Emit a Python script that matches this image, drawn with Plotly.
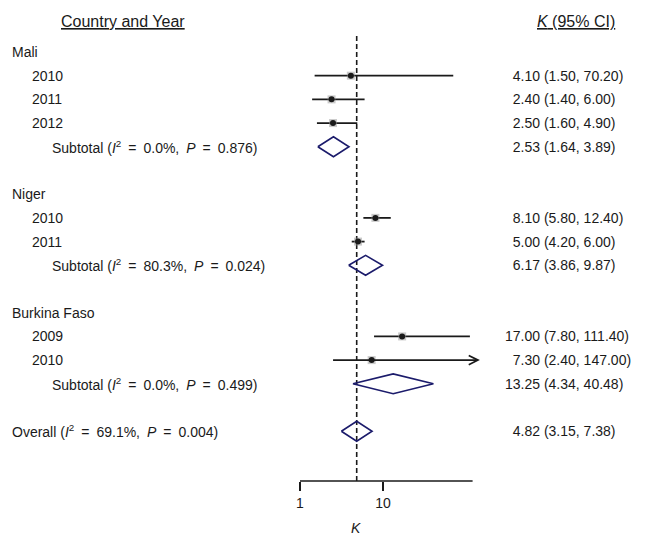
import numpy as np
import plotly.graph_objects as go

# ---------------- data ----------------
countries = ["Mali", "Niger", "Burkina Faso"]
study_country = ["Mali", "Mali", "Mali", "Niger", "Niger", "Burkina Faso", "Burkina Faso"]
study_year = ["2010", "2011", "2012", "2010", "2011", "2009", "2010"]
study_est = [4.10, 2.40, 2.50, 8.10, 5.00, 17.00, 7.30]
study_lo = [1.50, 1.40, 1.60, 5.80, 4.20, 7.80, 2.40]
study_hi = [70.20, 6.00, 4.90, 12.40, 6.00, 111.40, 147.00]

sub_est = [2.53, 6.17, 13.25]
sub_lo = [1.64, 3.86, 4.34]
sub_hi = [3.89, 9.87, 40.48]
sub_i2 = ["0.0", "80.3", "0.0"]
sub_p = ["0.876", "0.024", "0.499"]

overall_est = 4.82
overall_lo = 3.15
overall_hi = 7.38
overall_i2 = "69.1"
overall_p = "0.004"

x_ticks = [1, 10]
x_tick_labels = ["1", "10"]
axis_max = 120

# ---------------- layout of rows ----------------
FONT = "Liberation Sans, Arial, sans-serif"
BLACK = "#1a1a1a"
NAVY = "#1b1b6b"
SP = "\u2002"  # wider space as in the reference typesetting

def het_text(lead, i2, p):
    return "%s (<i>I</i><sup>2</sup>%s=%s%s%%,%s<i>P</i>%s=%s%s)" % (lead, SP, SP, i2, SP, SP, SP, p)

rows_left = []   # (row, text, indent_px)
rows_right = []  # (row, est, lo, hi)
st_rows, sb_rows = [], []
r = 1
for ci, c in enumerate(countries):
    rows_left.append((r, c, 10))
    r += 1
    for i, sc in enumerate(study_country):
        if sc == c:
            rows_left.append((r, study_year[i], 30))
            rows_right.append((r, study_est[i], study_lo[i], study_hi[i]))
            st_rows.append(r)
            r += 1
    rows_left.append((r, het_text("Subtotal", sub_i2[ci], sub_p[ci]), 50))
    rows_right.append((r, sub_est[ci], sub_lo[ci], sub_hi[ci]))
    sb_rows.append(r)
    r += 2
ov_row = r
rows_left.append((ov_row, het_text("Overall", overall_i2, overall_p), 10))
rows_right.append((ov_row, overall_est, overall_lo, overall_hi))

W, H = 646, 538
ML, MR, MT, MB = 300, 155, 33, 57
x_right = 200
pw = W - ML - MR
ph = H - MT - MB

def px(p):
    return (p - ML) / pw

def py(p):
    return (H - MB - p) / ph

fig = go.Figure()

# CI lines (non-truncated)
cx, cy = [], []
arrows = []
for i, rr in enumerate(st_rows):
    if study_hi[i] > axis_max:
        arrows.append((rr, study_lo[i], study_hi[i]))
        continue
    cx += [study_lo[i], study_hi[i], None]
    cy += [rr, rr, None]
fig.add_trace(go.Scatter(x=cx, y=cy, mode="lines", line=dict(color=BLACK, width=1.8),
                         hoverinfo="skip", showlegend=False))

# weight boxes
fig.add_trace(go.Scatter(x=study_est, y=st_rows, mode="markers",
                         marker=dict(symbol="square", size=8, color="rgba(150,150,150,0.5)"),
                         hoverinfo="skip", showlegend=False))
# point estimates
fig.add_trace(go.Scatter(x=study_est, y=st_rows, mode="markers",
                         marker=dict(symbol="circle", size=6, color=BLACK),
                         hoverinfo="skip", showlegend=False))

# diamonds
hh = 0.42
dx, dy = [], []
for e, lo, hi, rr in zip(sub_est + [overall_est], sub_lo + [overall_lo], sub_hi + [overall_hi], sb_rows + [ov_row]):
    dx += [lo, e, hi, e, lo, None]
    dy += [rr, rr - hh, rr, rr + hh, rr, None]
fig.add_trace(go.Scatter(x=dx, y=dy, mode="lines", line=dict(color=NAVY, width=1.6),
                         hoverinfo="skip", showlegend=False))

annotations = []
# arrows for truncated CIs (annotation coords on log axis are log10 values)
for rr, lo, hi in arrows:
    annotations.append(dict(x=np.log10(hi), y=rr, ax=np.log10(lo), ay=rr, xref="x", yref="y",
                            axref="x", ayref="y", text="", showarrow=True, arrowhead=5,
                            arrowwidth=1.8, arrowsize=1.0, arrowcolor=BLACK, standoff=0))

# left texts
for rr, t, ind in rows_left:
    annotations.append(dict(x=px(ind), y=rr, xref="paper", yref="y", text=t, showarrow=False,
                            xanchor="left", yanchor="middle", font=dict(family=FONT, size=14, color=BLACK)))

# right texts, decimal aligned
for rr, e, lo, hi in rows_right:
    pad = "\u2007" if e < 10 else ""
    t = "%s%.2f (%.2f, %.2f)" % (pad, e, lo, hi)
    annotations.append(dict(x=px(503), y=rr, xref="paper", yref="y", text=t, showarrow=False,
                            xanchor="left", yanchor="middle", font=dict(family=FONT, size=14, color=BLACK)))

# headers
annotations.append(dict(x=px(123), y=py(21), xref="paper", yref="paper", text="<u>Country and Year</u>",
                        showarrow=False, xanchor="center", yanchor="middle",
                        font=dict(family=FONT, size=16, color=BLACK)))
annotations.append(dict(x=px(576), y=py(21), xref="paper", yref="paper", text="<u><i>K</i> (95% CI)</u>",
                        showarrow=False, xanchor="center", yanchor="middle",
                        font=dict(family=FONT, size=16, color=BLACK)))
# x axis title
annotations.append(dict(x=px(356), y=py(528), xref="paper", yref="paper", text="<i>K</i>",
                        showarrow=False, xanchor="center", yanchor="middle",
                        font=dict(family=FONT, size=14, color=BLACK)))

shapes = [
    # reference line at overall estimate (shape coords on log axis: data values)
    dict(type="line", xref="x", yref="paper", x0=overall_est, x1=overall_est,
         y0=0, y1=1, line=dict(color=BLACK, width=1.6, dash="5px,3px"), layer="below"),
    # axis line
    dict(type="line", xref="x", yref="paper", x0=x_ticks[0], x1=axis_max,
         y0=0, y1=0, line=dict(color=BLACK, width=1.6)),
]

fig.update_layout(
    width=W, height=H,
    margin=dict(l=ML, r=MR, t=MT, b=MB),
    paper_bgcolor="white", plot_bgcolor="white",
    showlegend=False,
    annotations=annotations,
    shapes=shapes,
    xaxis=dict(type="log", range=[0, np.log10(x_right)], tickvals=x_ticks, ticktext=x_tick_labels,
               ticks="outside", ticklen=9, tickwidth=1.6, tickcolor=BLACK, showline=False,
               showgrid=False, zeroline=False, tickfont=dict(family=FONT, size=14, color=BLACK)),
    yaxis=dict(range=[19.1, 0.2], visible=False, showgrid=False, zeroline=False),
)

fig.write_html("out.html", config={"displayModeBar": False},
               post_script="document.body.style.margin='0px';")
